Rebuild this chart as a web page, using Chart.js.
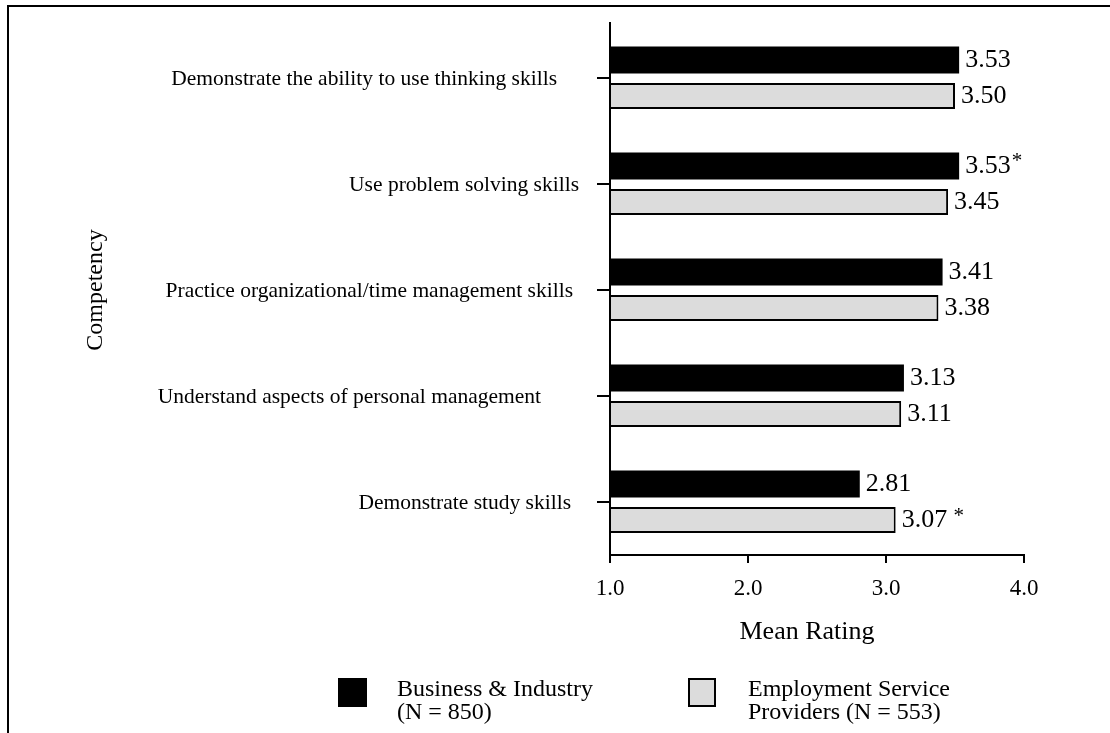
<!DOCTYPE html>
<html>
<head>
<meta charset="utf-8">
<script src="https://cdn.jsdelivr.net/npm/chart.js@4.4.1/dist/chart.umd.min.js"></script>
<style>
  html, body { margin: 0; padding: 0; background: #fff; }
  #wrap { width: 1110px; height: 733px; position: relative; }
</style>
</head>
<body>
<div id="wrap"><canvas id="c" width="1110" height="733"></canvas></div>
<script>
// ---- data ----
const categories = [
  'Demonstrate the ability to use thinking skills',
  'Use problem solving skills',
  'Practice organizational/time management skills',
  'Understand aspects of personal management',
  'Demonstrate study skills'
];
const businessValues = [3.53, 3.53, 3.41, 3.13, 2.81];
const providerValues = [3.50, 3.45, 3.38, 3.11, 3.07];
const businessMarks = ['', '*', '', '', ''];
const providerMarks = ['', '', '', '', ' *'];
const xTickValues = [1, 2, 3, 4];
const xTitle = 'Mean Rating';
const yTitle = 'Competency';
const businessLegend = ['Business & Industry', '(N = 850)'];
const providerLegend = ['Employment Service', 'Providers (N = 553)'];

// ---- styling ----
const SERIF = "'Liberation Serif', 'Times New Roman', Times, serif";
const labelGaps = [53, 31, 37, 69, 39]; // distance of each category label from the axis

const borderPlugin = {
  id: 'pageBorder',
  beforeDraw(chart) {
    const ctx = chart.ctx;
    ctx.save();
    ctx.fillStyle = '#fff';
    ctx.fillRect(0, 0, chart.width, chart.height);
    ctx.strokeStyle = '#000';
    ctx.lineWidth = 2;
    ctx.beginPath();
    ctx.moveTo(8, chart.height);
    ctx.lineTo(8, 6);
    ctx.lineTo(chart.width, 6);
    ctx.stroke();
    // axis line extends slightly above the plotting band
    const a = chart.chartArea;
    ctx.beginPath();
    ctx.moveTo(a.left, a.top);
    ctx.lineTo(a.left, a.top - 3);
    ctx.stroke();
    ctx.restore();
  }
};

const textPlugin = {
  id: 'textLabels',
  afterDraw(chart) {
    const ctx = chart.ctx;
    const ys = chart.scales.y;
    const a = chart.chartArea;
    ctx.save();
    ctx.fillStyle = '#000';
    ctx.font = '21.5px ' + SERIF;
    ctx.textAlign = 'right';
    ctx.textBaseline = 'middle';
    chart.data.labels.forEach((lab, i) => {
      const y = ys.getPixelForValue(i);
      ctx.fillText(lab, a.left - labelGaps[i], y + 1);
    });
    // x-axis title
    ctx.textAlign = 'center';
    ctx.font = '26px ' + SERIF;
    ctx.fillText(xTitle, (a.left + a.right) / 2 - 10, 632);
    // y-axis title
    ctx.save();
    ctx.translate(96, (a.top + a.bottom) / 2);
    ctx.rotate(-Math.PI / 2);
    ctx.font = '24px ' + SERIF;
    ctx.fillText(yTitle, 0, 0);
    ctx.restore();
    ctx.restore();
  }
};

const valueLabelPlugin = {
  id: 'valueLabels',
  afterDatasetsDraw(chart) {
    const ctx = chart.ctx;
    const marks = [businessMarks, providerMarks];
    ctx.save();
    ctx.fillStyle = '#000';
    chart.data.datasets.forEach((ds, di) => {
      const meta = chart.getDatasetMeta(di);
      meta.data.forEach((el, i) => {
        const txt = ds.data[i].toFixed(2);
        ctx.font = '26px ' + SERIF;
        ctx.textAlign = 'left';
        ctx.textBaseline = 'middle';
        const x = el.x + 6;
        ctx.fillText(txt, x, el.y);
        const w = ctx.measureText(txt).width;
        const m = marks[di][i];
        if (m) {
          ctx.font = '21px ' + SERIF;
          ctx.fillText(m, x + w + 1, el.y - 4);
        }
      });
    });
    ctx.restore();
  }
};

const legendPlugin = {
  id: 'customLegend',
  afterDraw(chart) {
    const ctx = chart.ctx;
    const items = [
      { box: [338, 678, 29, 29], textX: 397, lines: businessLegend, ds: chart.data.datasets[0] },
      { box: [688, 678, 28, 29], textX: 748, lines: providerLegend, ds: chart.data.datasets[1] }
    ];
    ctx.save();
    items.forEach(it => {
      const [bx, by, bw, bh] = it.box;
      ctx.fillStyle = it.ds.backgroundColor;
      ctx.fillRect(bx, by, bw, bh);
      ctx.strokeStyle = '#000';
      ctx.lineWidth = 2;
      ctx.strokeRect(bx + 1, by + 1, bw - 2, bh - 2);
      ctx.fillStyle = '#000';
      ctx.font = '24px ' + SERIF;
      ctx.textAlign = 'left';
      ctx.textBaseline = 'middle';
      it.lines.forEach((ln, k) => ctx.fillText(ln, it.textX, 690 + k * 23));
    });
    ctx.restore();
  }
};

new Chart(document.getElementById('c'), {
  type: 'bar',
  data: {
    labels: categories,
    datasets: [
      {
        label: businessLegend.join(' '),
        data: businessValues,
        base: 1,
        backgroundColor: '#000000',
        borderColor: '#000000',
        borderWidth: 0,
        categoryPercentage: 0.68,
        barPercentage: 0.75
      },
      {
        label: providerLegend.join(' '),
        data: providerValues,
        base: 1,
        backgroundColor: '#dcdcdc',
        borderColor: '#000000',
        borderWidth: 2,
        categoryPercentage: 0.68,
        barPercentage: 0.72
      }
    ]
  },
  options: {
    responsive: false,
    animation: false,
    indexAxis: 'y',
    layout: { padding: { top: 25, right: 86, left: 0, bottom: 83 } },
    plugins: {
      legend: { display: false },
      tooltip: { enabled: false },
      title: { display: false }
    },
    scales: {
      x: {
        type: 'linear',
        position: 'bottom',
        min: 1,
        max: 4,
        afterBuildTicks(scale) {
          scale.ticks = xTickValues.map(v => ({ value: v }));
        },
        afterFit(scale) { scale.height = 95; },
        ticks: {
          color: '#000',
          font: { family: SERIF, size: 23 },
          padding: 12,
          callback: v => Number(v).toFixed(1)
        },
        grid: {
          drawOnChartArea: false,
          drawTicks: true,
          tickLength: 8,
          color: '#000',
          lineWidth: 2
        },
        border: { display: true, color: '#000', width: 2 },
        title: { display: false }
      },
      y: {
        type: 'category',
        position: 'left',
        afterFit(scale) { scale.width = 610; },
        ticks: { display: false },
        grid: {
          offset: false,
          drawOnChartArea: false,
          drawTicks: true,
          tickLength: 13,
          color: '#000',
          lineWidth: 2
        },
        border: { display: true, color: '#000', width: 2 },
        title: { display: false }
      }
    }
  },
  plugins: [borderPlugin, textPlugin, valueLabelPlugin, legendPlugin]
});
</script>
</body>
</html>
